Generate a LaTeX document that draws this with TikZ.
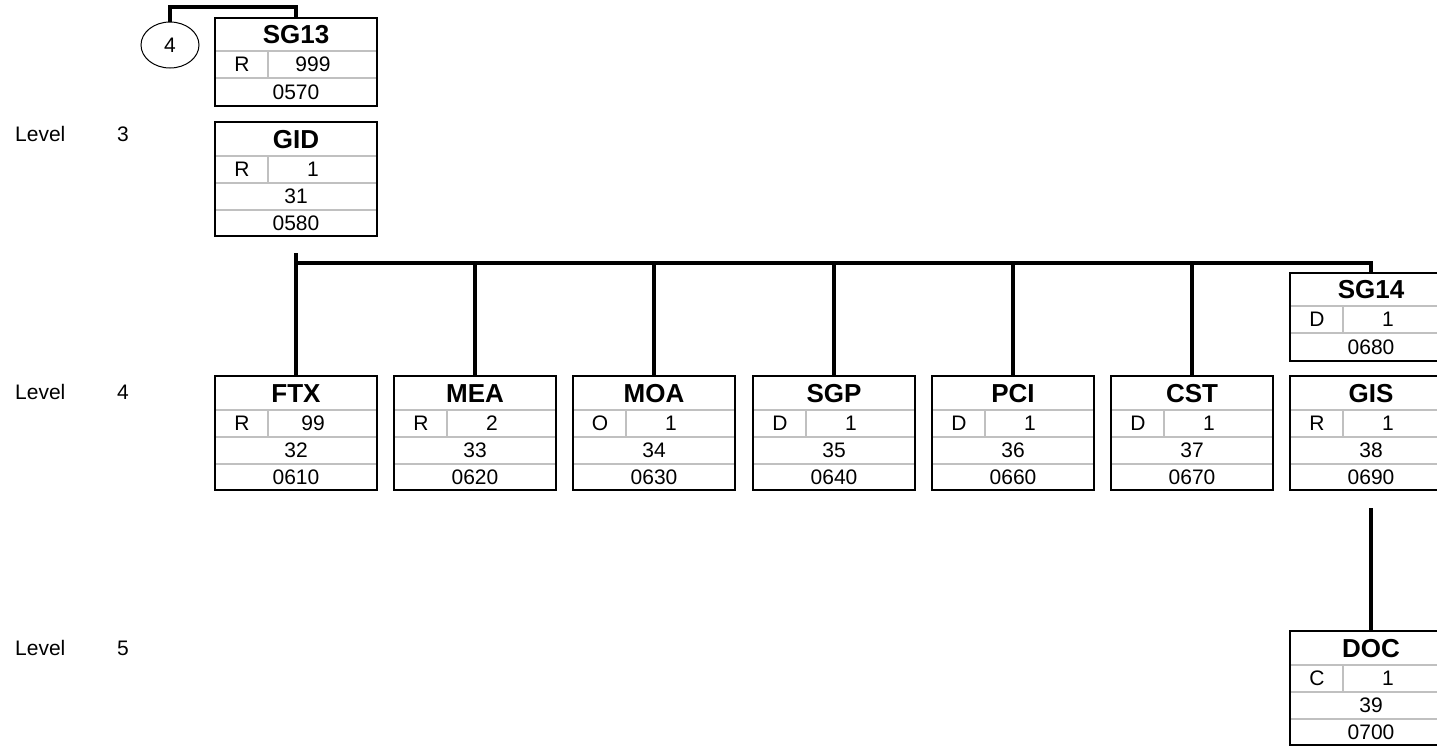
\documentclass[tikz,border=0pt]{standalone}
\usepackage{fontspec}
\setmainfont{Liberation Sans}
\usetikzlibrary{positioning, calc, shapes.geometric}
\definecolor{rowgray}{HTML}{C0C0C0}

% segment box: name, left, top, tag, status, repeat, position, number
\newcommand{\segbox}[8]{%
  \node[segframe, minimum height=114pt] (#1) at (#2,#3) {};
  \draw[rowline] ([yshift=-34pt]#1.north west) -- ([yshift=-34pt]#1.north east);
  \draw[rowline] ([yshift=-61pt]#1.north west) -- ([yshift=-61pt]#1.north east);
  \draw[rowline] ([yshift=-88pt]#1.north west) -- ([yshift=-88pt]#1.north east);
  \draw[rowline] ([xshift=53pt,yshift=-34pt]#1.north west) -- ([xshift=53pt,yshift=-61pt]#1.north west);
  \node[hdr] (#1-tag) at ([yshift=-17.5pt]#1.north) {#4};
  \node[cell] (#1-st) at ([xshift=27pt,yshift=-47.5pt]#1.north west) {#5};
  \node[cell] (#1-rep) at ([xshift=98pt,yshift=-47.5pt]#1.north west) {#6};
  \node[cell] (#1-pos) at ([yshift=-74.5pt]#1.north) {#7};
  \node[cell] (#1-num) at ([yshift=-101pt]#1.north) {#8};
}

% group box: name, left, top, tag, status, repeat, number
\newcommand{\grpbox}[7]{%
  \node[segframe, minimum height=88pt] (#1) at (#2,#3) {};
  \draw[rowline] ([yshift=-33pt]#1.north west) -- ([yshift=-33pt]#1.north east);
  \draw[rowline] ([yshift=-60pt]#1.north west) -- ([yshift=-60pt]#1.north east);
  \draw[rowline] ([xshift=53pt,yshift=-33pt]#1.north west) -- ([xshift=53pt,yshift=-60pt]#1.north west);
  \node[hdr] (#1-tag) at ([yshift=-17pt]#1.north) {#4};
  \node[cell] (#1-st) at ([xshift=27pt,yshift=-46.5pt]#1.north west) {#5};
  \node[cell] (#1-rep) at ([xshift=98pt,yshift=-46.5pt]#1.north west) {#6};
  \node[cell] (#1-num) at ([yshift=-74pt]#1.north) {#7};
}

\begin{document}
\begin{tikzpicture}[
  x=1pt, y=-1pt,
  segframe/.style={
    draw, line width=2.6pt, minimum width=162pt, anchor=north west,
    inner sep=0pt, outer sep=0pt
  },
  rowline/.style={rowgray, line width=2pt, shorten <=1.3pt, shorten >=1.3pt},
  hdr/.style={font=\fontsize{26}{28}\selectfont\bfseries, inner sep=0pt},
  cell/.style={font=\fontsize{21}{23}\selectfont, inner sep=0pt},
  lvl/.style={font=\fontsize{21}{23}\selectfont, inner sep=0pt},
  link/.style={line width=3.2pt},
]

% Page frame
\useasboundingbox (0,0) rectangle (1437,747);
\clip (0,0) rectangle (1437,747);

% =============================================
% Level labels
% =============================================
\node[lvl, anchor=west] (lv3) at (15,134) {Level};
\node[lvl] (lv3n) at (123,134) {3};
\node[lvl, anchor=west] (lv4) at (15,392) {Level};
\node[lvl] (lv4n) at (123,392) {4};
\node[lvl, anchor=west] (lv5) at (15,648) {Level};
\node[lvl] (lv5n) at (123,648) {5};

% =============================================
% Level 3: SG13 and GID
% =============================================
\node[draw, ellipse, line width=1pt, minimum width=58pt, minimum height=46pt,
      font=\fontsize{21}{23}\selectfont] (c4) at (170,45) {4};

\grpbox{sg13}{215}{18}{SG13}{R}{999}{0570}
\segbox{gid}{215}{122}{GID}{R}{1}{31}{0580}

\coordinate (loop) at (170,7);
\draw[link] (c4.north) -- (loop) -| (sg13.north);

% =============================================
% Level 4 row
% =============================================
\segbox{ftx}{215}{376}{FTX}{R}{99}{32}{0610}
\segbox{mea}{394}{376}{MEA}{R}{2}{33}{0620}
\segbox{moa}{573}{376}{MOA}{O}{1}{34}{0630}
\segbox{sgp}{753}{376}{SGP}{D}{1}{35}{0640}
\segbox{pci}{932}{376}{PCI}{D}{1}{36}{0660}
\segbox{cst}{1111}{376}{CST}{D}{1}{37}{0670}
\grpbox{sg14}{1290}{273}{SG14}{D}{1}{0680}
\segbox{gis}{1290}{376}{GIS}{R}{1}{38}{0690}

% =============================================
% Level 5
% =============================================
\segbox{doc}{1290}{631}{DOC}{C}{1}{39}{0700}

% =============================================
% Connectors
% =============================================
\coordinate (gidtail) at (296,253);
\coordinate (bus) at (296,263);
\draw[link] (gidtail) -- (ftx.north);
\draw[link] (bus) -| (sg14.north);
\draw[link] (mea.north |- bus) -- (mea.north);
\draw[link] (moa.north |- bus) -- (moa.north);
\draw[link] (sgp.north |- bus) -- (sgp.north);
\draw[link] (pci.north |- bus) -- (pci.north);
\draw[link] (cst.north |- bus) -- (cst.north);

\draw[link] ([yshift=-18pt]gis.south) -- (doc.north);

\end{tikzpicture}
\end{document}
